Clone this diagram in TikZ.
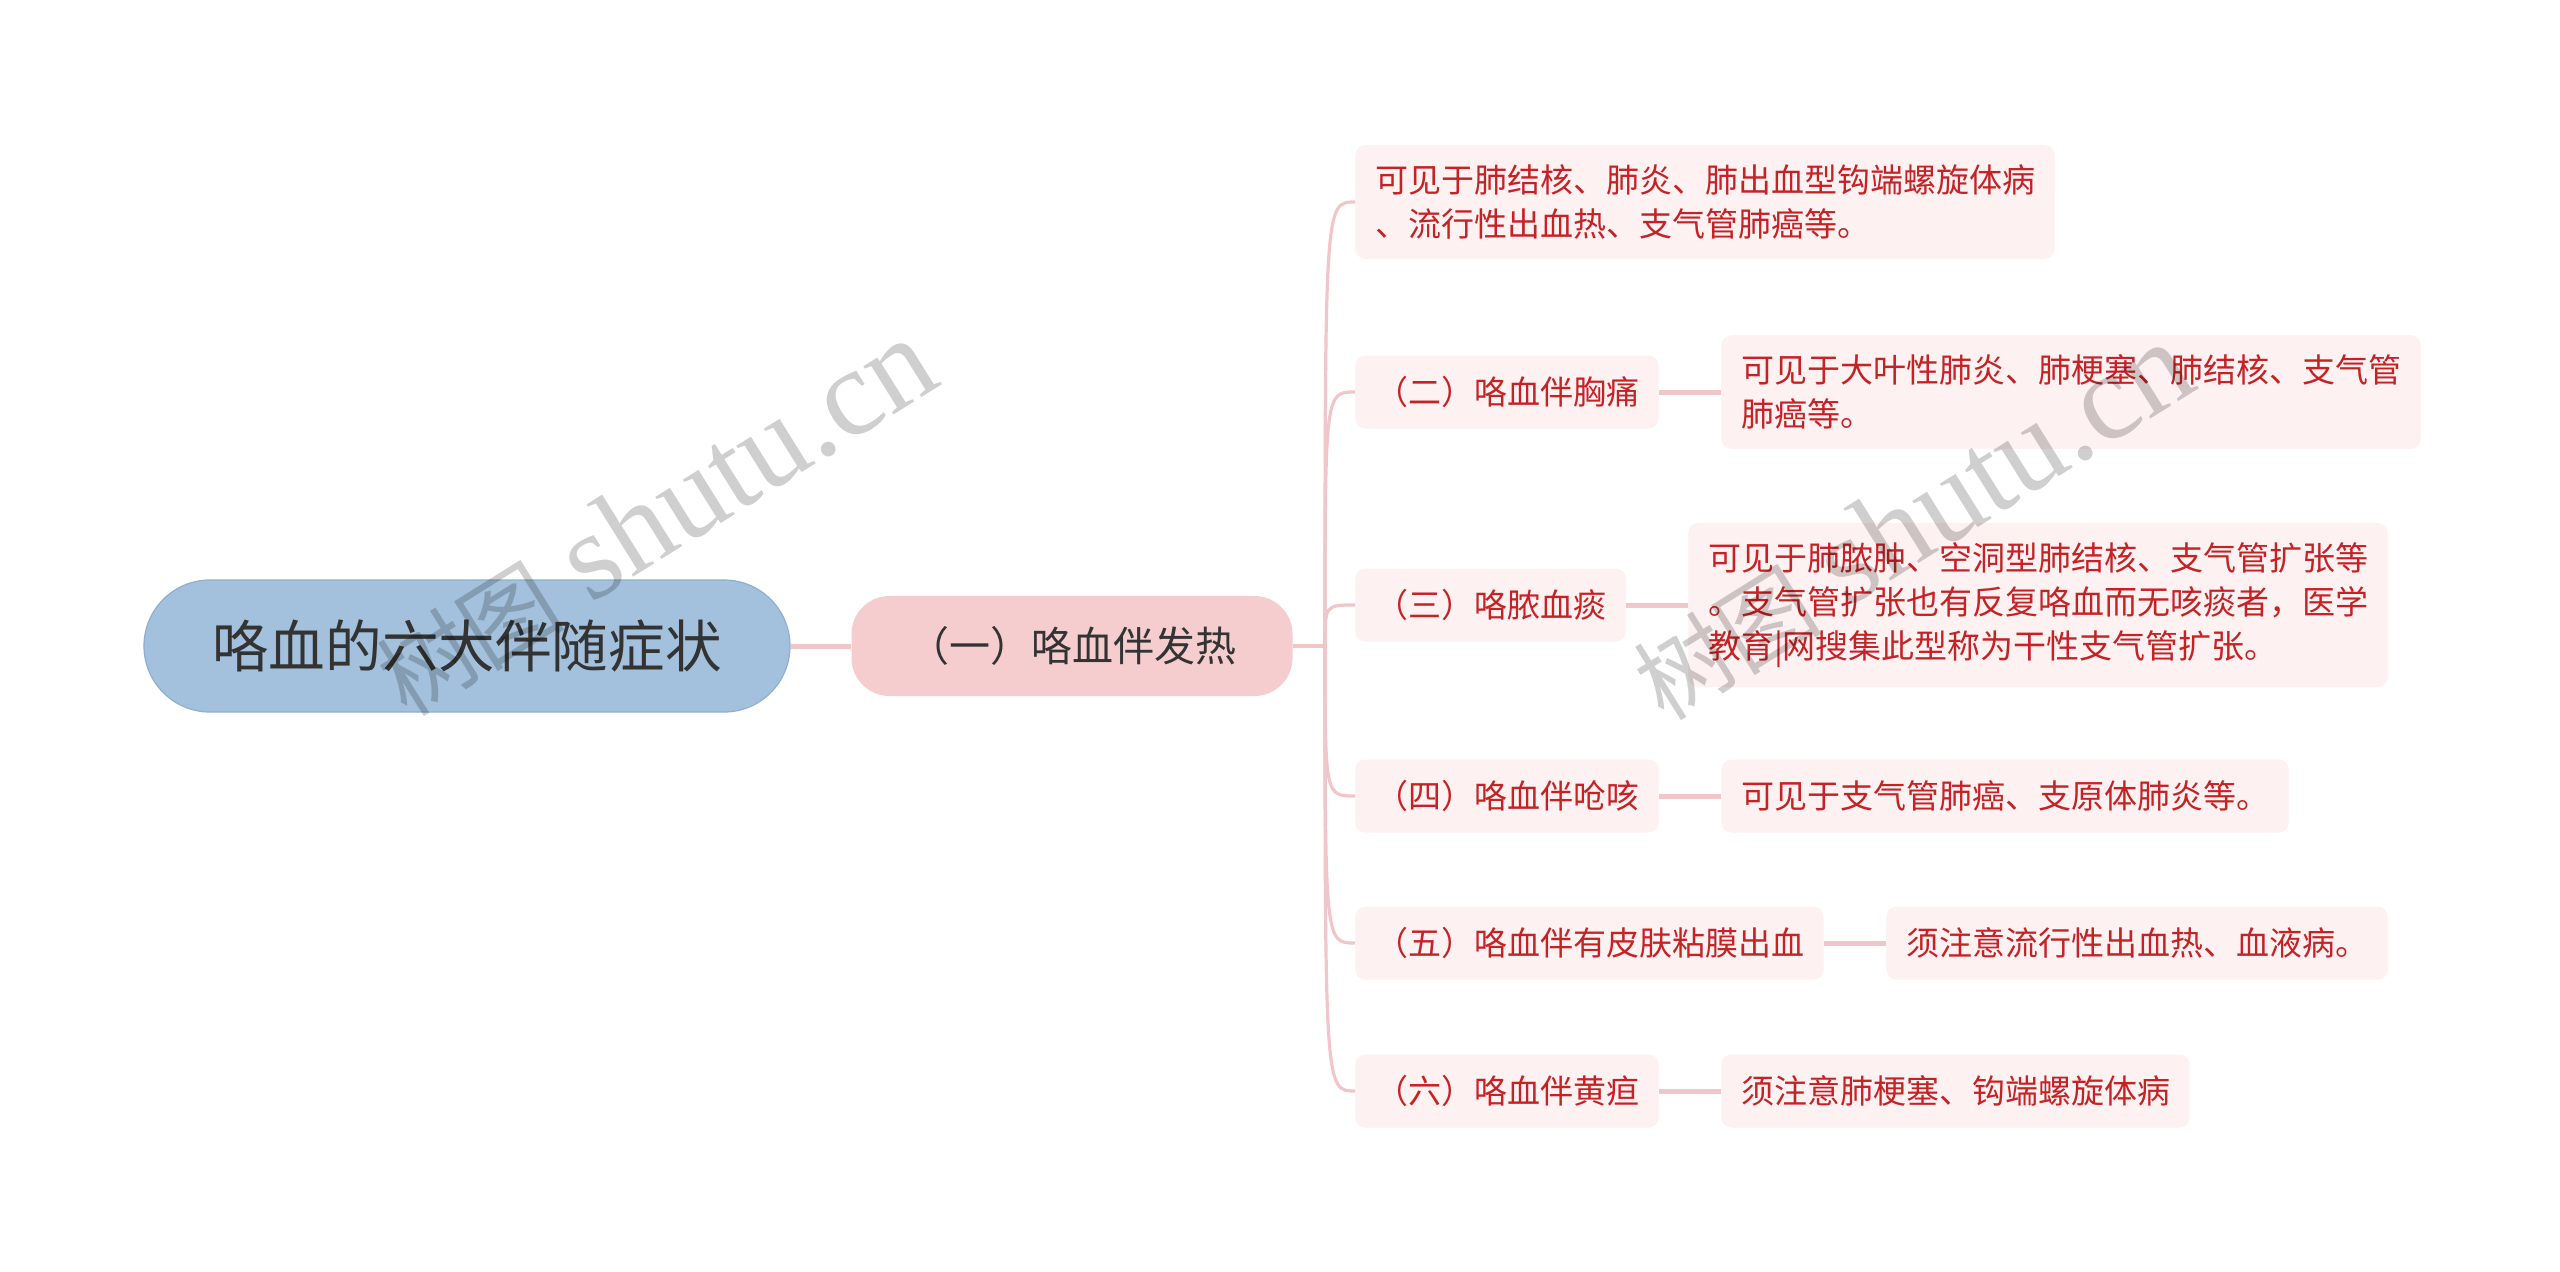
\documentclass[tikz,border=0pt]{standalone}
\usepackage{fontspec}
\setmainfont{Noto Sans CJK SC}
\newfontfamily\wmfont{Liberation Serif}
\definecolor{rootfill}{HTML}{A3C1DC}
\definecolor{rootdraw}{HTML}{8EAFD0}
\definecolor{roottxt}{HTML}{333333}
\definecolor{midfill}{HTML}{F5CDCE}
\definecolor{boxfill}{HTML}{FDF1F1}
\definecolor{redtxt}{HTML}{C42326}
\definecolor{lineclr}{HTML}{F1C6C8}
\tikzset{
  rootbox/.style={fill=rootfill, draw=rootdraw, line width=0.6pt, rounded corners=33pt,
    minimum width=323pt, minimum height=66pt, inner sep=0pt, text=roottxt,
    font=\fontsize{28.3}{34}\selectfont},
  midbox/.style={fill=midfill, rounded corners=19pt, minimum width=220.5pt,
    minimum height=50pt, inner sep=0pt, text=roottxt, font=\fontsize{20.5}{25}\selectfont},
  subbox/.style={fill=boxfill, rounded corners=5pt, text=redtxt, anchor=west,
    font=\fontsize{16.5}{22}\selectfont, inner xsep=9.8pt, inner ysep=9.75pt,
    minimum height=36.5pt, align=left},
  trunk/.style={draw=lineclr, line width=2.5pt},
  branch/.style={draw=lineclr, line width=1.6pt},
  link/.style={draw=lineclr, line width=2.5pt},
  wm/.style={text=black, text opacity=0.19, font=\fontsize{62}{62}\selectfont, inner sep=0pt}
}
\begin{document}
\begin{tikzpicture}[x=0.5pt,y=-0.5pt]
\useasboundingbox (0,0) rectangle (2560,1271);
\fill[white] (0,0) rectangle (2560,1271);

\node[rootbox] (root) at (467,646) {咯血的六大伴随症状};
\node[midbox] (n1) at (1072,646) {（一）咯血伴发热};

\node[subbox] (c1) at (1355,202) {可见于肺结核、肺炎、肺出血型钩端螺旋体病\\、流行性出血热、支气管肺癌等。};
\node[subbox] (s2) at (1355,392) {（二）咯血伴胸痛};
\node[subbox] (s3) at (1355,605) {（三）咯脓血痰};
\node[subbox] (s4) at (1355,796) {（四）咯血伴呛咳};
\node[subbox] (s5) at (1355,943) {（五）咯血伴有皮肤粘膜出血};
\node[subbox] (s6) at (1355,1091) {（六）咯血伴黄疸};

\node[subbox] (d2) at ([xshift=31pt]s2.east) {可见于大叶性肺炎、肺梗塞、肺结核、支气管\\肺癌等。};
\node[subbox] (d3) at ([xshift=31pt]s3.east) {可见于肺脓肿、空洞型肺结核、支气管扩张等\\。支气管扩张也有反复咯血而无咳痰者，医学\\教育|网搜集此型称为干性支气管扩张。};
\node[subbox] (d4) at ([xshift=31pt]s4.east) {可见于支气管肺癌、支原体肺炎等。};
\node[subbox] (d5) at ([xshift=31pt]s5.east) {须注意流行性出血热、血液病。};
\node[subbox] (d6) at ([xshift=31pt]s6.east) {须注意肺梗塞、钩端螺旋体病};

\coordinate (j) at (1325,646);
\draw[trunk] (root.east) -- (n1.west);
\draw[branch] (n1.east) -- (j);
\foreach \t in {c1,s2,s3,s4,s5,s6}
  \draw[branch] (j) .. controls (j |- \t.west) .. (\t.west);
\foreach \a/\b in {s2/d2,s3/d3,s4/d4,s5/d5,s6/d6}
  \draw[link] (\a.east) -- (\b.west);

\node[wm, rotate=32] (w1) at (655,518) {{\fontsize{47}{47}\selectfont 树图}\ {\wmfont shutu.cn}};
\node[wm, rotate=32] (w2) at (1912,522) {{\fontsize{47}{47}\selectfont 树图}\ {\wmfont shutu.cn}};
\end{tikzpicture}
\end{document}
